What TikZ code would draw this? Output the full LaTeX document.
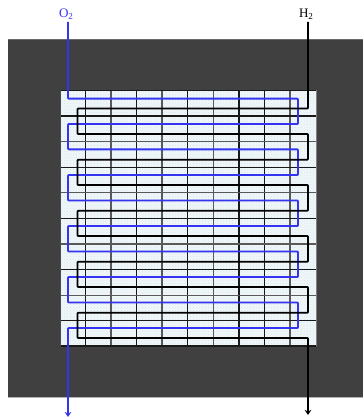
\documentclass[tikz,border=0pt]{standalone}
\usepackage{fontspec}
\setmainfont{Liberation Serif}
\usetikzlibrary{arrows.meta,patterns}
\definecolor{slab}{HTML}{404040}
\definecolor{slabedge}{HTML}{6A6A6A}
\definecolor{cellfill}{HTML}{F1F7F9}
\definecolor{cellspot}{HTML}{D5E6EE}
\definecolor{oxy}{HTML}{3333F0}
\tikzset{
  x=1pt,y=-1pt,
  gridline/.style={line width=1.1pt,draw=black!90},
  gridsoft/.style={line width=1.1pt,draw=black!65},
  channel/.style={line width=1.9pt,line join=round,rounded corners=0.8pt,-{Stealth[length=5pt,width=6.5pt]}},
  label/.style={inner sep=0pt,font=\fontsize{13}{15}\selectfont},
}
\begin{document}
\begin{tikzpicture}
\useasboundingbox (0,0) rectangle (363,417);
\fill[slab] (8,39) rectangle (363,397);
\draw[slabedge,line width=0.5pt] (8,39.2) -- (363,39.2);
\draw[black!30,line width=0.6pt] (8,397.2) -- (363,397.2);
\fill[cellfill] (60.5,90.5) rectangle (316,346);
\fill[pattern=crosshatch dots,pattern color=cellspot] (60.5,90.5) rectangle (316,346);
% vertical grid lines
\foreach \x/\s in {85.5/gridline,111/gridsoft,136.5/gridline,162/gridsoft,187.7/gridline,213.3/gridsoft,239/gridline,264.6/gridline,290/gridsoft}
  \draw[\s] (\x,90.5) -- (\x,346);
% horizontal grid lines
\foreach \y/\s in {116/gridline,141.7/gridsoft,167.2/gridline,192.8/gridsoft,218.4/gridline,244/gridsoft,269.6/gridline,295.2/gridsoft,320.7/gridline}
  \draw[\s] (60.5,\y) -- (316,\y);
\draw[gridline] (60.5,90.5) -- (316,90.5);
\draw[gridline] (60.5,346) -- (316,346);
\draw[black!70,line width=0.8pt] (60.5,90.5) -- (60.5,346);
\draw[black!50,line width=0.8pt] (316,90.5) -- (316,346);
% labels and free ends
\node[label,text=oxy,anchor=base] (o2) at (66.3,18) {O\textsubscript{2}};
\node[label,anchor=base] (h2) at (306.3,18) {H\textsubscript{2}};
\coordinate (oin) at (68,22);
\coordinate (oout) at (68,417);
\coordinate (hin) at (308,22);
\coordinate (hout) at (308,415);
% oxygen serpentine
\draw[channel,draw=oxy] (oin) -- (68,98.7) -- (298,98.7) -- (298,124) -- (68,124)
  -- (68,149.3) -- (298,149.3) -- (298,175) -- (68,175)
  -- (68,200.5) -- (298,200.5) -- (298,226) -- (68,226)
  -- (68,251.5) -- (298,251.5) -- (298,277) -- (68,277)
  -- (68,302.5) -- (298,302.5) -- (298,328) -- (68,328)
  -- (oout);
% hydrogen serpentine
\draw[channel,draw=black] (hin) -- (308,108.5) -- (77.5,108.5) -- (77.5,134) -- (308,134)
  -- (308,159.7) -- (77.5,159.7) -- (77.5,185) -- (308,185)
  -- (308,210.7) -- (77.5,210.7) -- (77.5,236) -- (308,236)
  -- (308,261.7) -- (77.5,261.7) -- (77.5,287) -- (308,287)
  -- (308,312.7) -- (77.5,312.7) -- (77.5,338) -- (308,338)
  -- (hout);
\end{tikzpicture}
\end{document}
